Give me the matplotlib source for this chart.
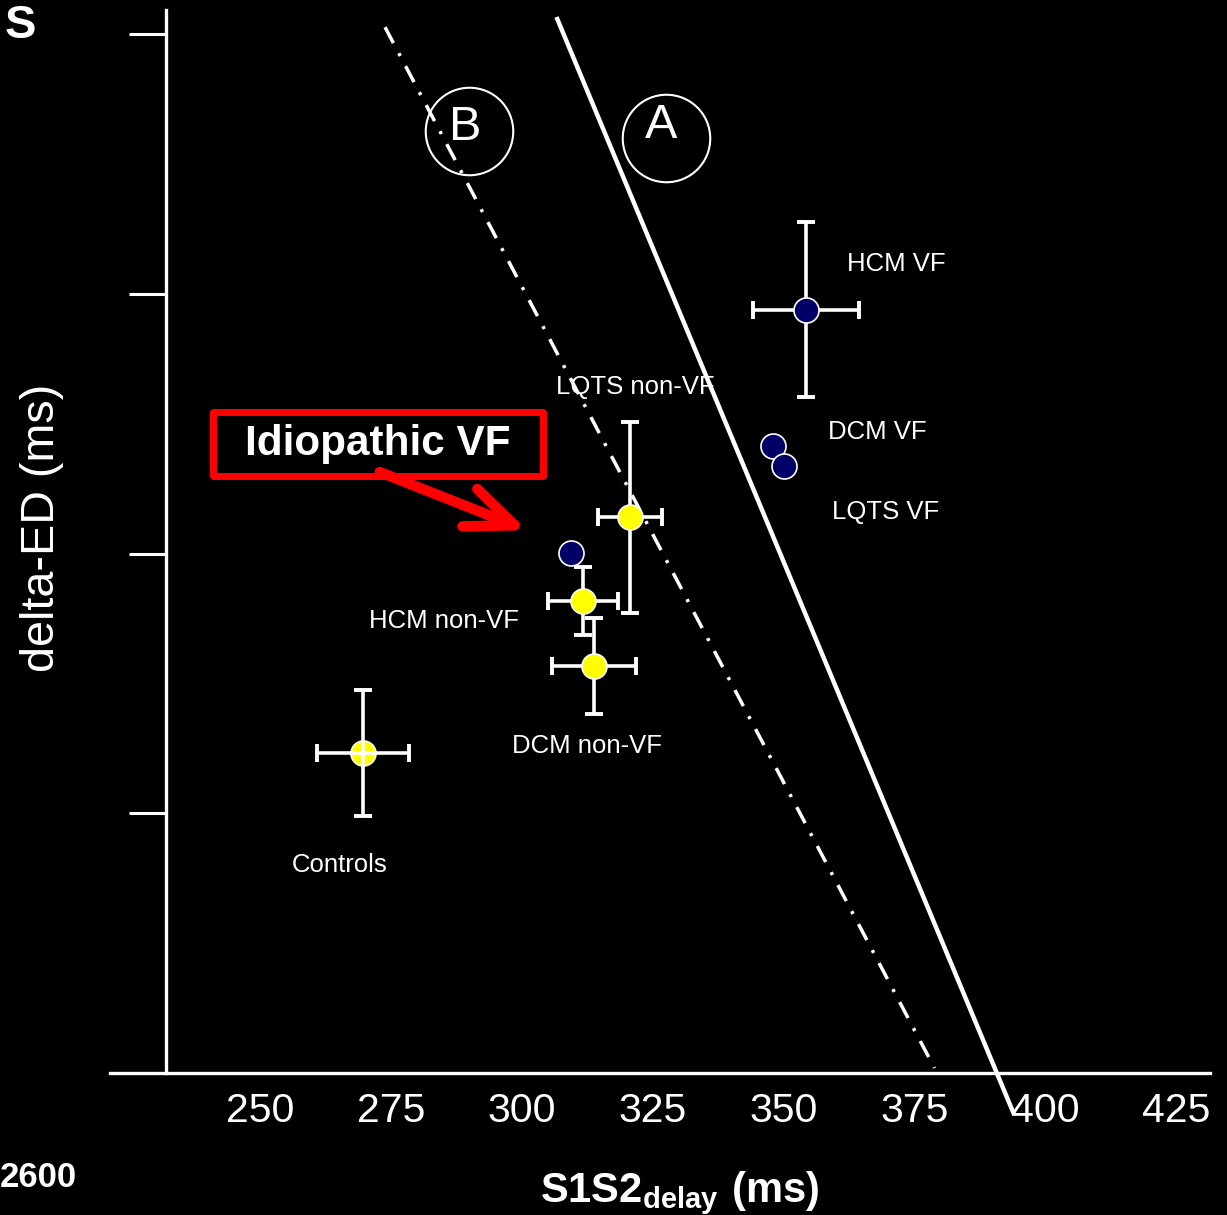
import matplotlib.pyplot as plt
from matplotlib.patches import Rectangle

plt.rcParams['font.family'] = ['Liberation Sans', 'DejaVu Sans']
plt.rcParams['mathtext.fontset'] = 'custom'
plt.rcParams['mathtext.rm'] = 'Liberation Sans'
plt.rcParams['mathtext.bf'] = 'Liberation Sans:bold'

# group means and spread (S1S2 delay in ms, delta-ED in ms)
groups = ["Controls", "HCM non-VF", "DCM non-VF", "LQTS non-VF",
          "HCM VF", "DCM VF", "LQTS VF", "Idiopathic VF"]
s1s2 = [269.7, 311.7, 313.8, 320.7, 354.3, 348.0, 350.1, 309.4]
delta_ed = [12.32, 18.17, 15.67, 21.39, 29.38, 24.14, 23.37, 20.02]
s1s2_err = [8.8, 6.6, 8.1, 6.1, 10.1, 0, 0, 0]
delta_ed_err = [2.43, 1.31, 1.85, 3.68, 3.37, 0, 0, 0]
is_vf = [False, False, False, False, True, True, True, True]

# separation lines A and B
line_a_x = [306.8, 393.8]
line_a_y = [40.58, -1.50]
line_b_x = [273.9, 378.8]
line_b_y = [40.27, 0.19]

x_ticks = [250, 275, 300, 325, 350, 375, 400, 425]
y_ticks = [10, 20, 30, 40]

# where each group name is written
label_pos = {
    "Controls": (265.2, 8.0),
    "HCM non-VF": (285.2, 17.4),
    "DCM non-VF": (312.5, 12.6),
    "LQTS non-VF": (321.6, 26.4),
    "HCM VF": (371.5, 31.15),
    "DCM VF": (367.9, 24.7),
    "LQTS VF": (369.4, 21.6),
}

yellow = '#FFFF00'
navy = '#000066'

fig = plt.figure(figsize=(12.27, 12.15), dpi=100, facecolor='black')
ax = fig.add_axes([110 / 1227, 142 / 1215, 1100 / 1227, 1063 / 1215])
ax.set_facecolor('black')
ax.set_xlim(221.4, 431.4)
ax.set_ylim(0, 40.93)

# axes styling
for side in ['top', 'right']:
    ax.spines[side].set_visible(False)
ax.spines['bottom'].set_color('white')
ax.spines['bottom'].set_linewidth(2.4)
ax.spines['left'].set_color('white')
ax.spines['left'].set_linewidth(2.4)
ax.spines['left'].set_position(('data', 232.0))
ax.set_xticks(x_ticks)
ax.set_yticks(y_ticks)
ax.tick_params(axis='x', length=0, pad=14, labelsize=29.5, labelcolor='white')
ax.tick_params(axis='y', length=26.6, width=2.2, color='white', labelleft=False)

# lines A and B
ax.plot(line_a_x, line_a_y, color='white', lw=3.2, clip_on=False, zorder=1)
ax.plot(line_b_x, line_b_y, color='white', lw=2.5, clip_on=False, zorder=1,
        linestyle=(0, (5.2, 3.3, 0.9, 3.3)))

# circled letters
ax.plot(327.6, 36.02, 'o', ms=63, mfc='none', mec='white', mew=1.5, zorder=2)
ax.plot(290.0, 36.27, 'o', ms=63, mfc='none', mec='white', mew=1.5, zorder=2)
ax.text(326.7, 36.5, "A", color='white', fontsize=35, ha='center', va='center')
ax.text(289.2, 36.4, "B", color='white', fontsize=35, ha='center', va='center')

# group points with error bars
for i, g in enumerate(groups):
    color = navy if is_vf[i] else yellow
    bar_z = 5 if g == "Controls" else 3
    if s1s2_err[i] > 0:
        ax.errorbar(s1s2[i], delta_ed[i], xerr=s1s2_err[i], yerr=delta_ed_err[i],
                    fmt='none', ecolor='white', elinewidth=2.6, capsize=6.5,
                    capthick=2.8, zorder=bar_z)
    ax.plot(s1s2[i], delta_ed[i], 'o', ms=18, mfc=color, mec='white', mew=1.2, zorder=4)
    if g in label_pos:
        lx, ly = label_pos[g]
        ax.text(lx, ly, g, color='white', fontsize=18.5, ha='center', va='center')

# idiopathic VF callout
ax.add_patch(Rectangle((241.15, 22.97), 62.9, 2.5, fill=False, ec='#FF0000', lw=5,
                       joinstyle='round', clip_on=False, zorder=6))
ax.text(272.6, 24.2, "Idiopathic VF", color='white', fontsize=30.4, fontweight='bold',
        ha='center', va='center', zorder=7)
ax.annotate("", xy=(301.0, 20.9), xytext=(272.9, 23.14),
            arrowprops=dict(arrowstyle="->,head_length=3.45,head_width=1.45",
                            color='#FF0000', lw=7.5, mutation_scale=10,
                            shrinkA=0, shrinkB=0), zorder=6)

# axis titles
fig.text(42 / 1227, 1 - 528 / 1215, "delta-ED (ms)", color='white', fontsize=33.7,
         rotation=90, ha='center', va='center')
fig.text(680 / 1227, 1 - 1202 / 1215, r"$\mathbf{S1S2_{delay}\ (ms)}$", color='white',
         fontsize=30, ha='center', va='baseline')

# fragments at the edges of the slide
fig.text(36 / 1227, 1 - 38 / 1215, "S", color='white', fontsize=34,
         fontweight='bold', ha='right', va='baseline')
fig.text(77 / 1227, 1 - 1187 / 1215, "2600", color='white', fontsize=25,
         fontweight='bold', ha='right', va='baseline')

fig.savefig("out.png", dpi=100, facecolor='black')
